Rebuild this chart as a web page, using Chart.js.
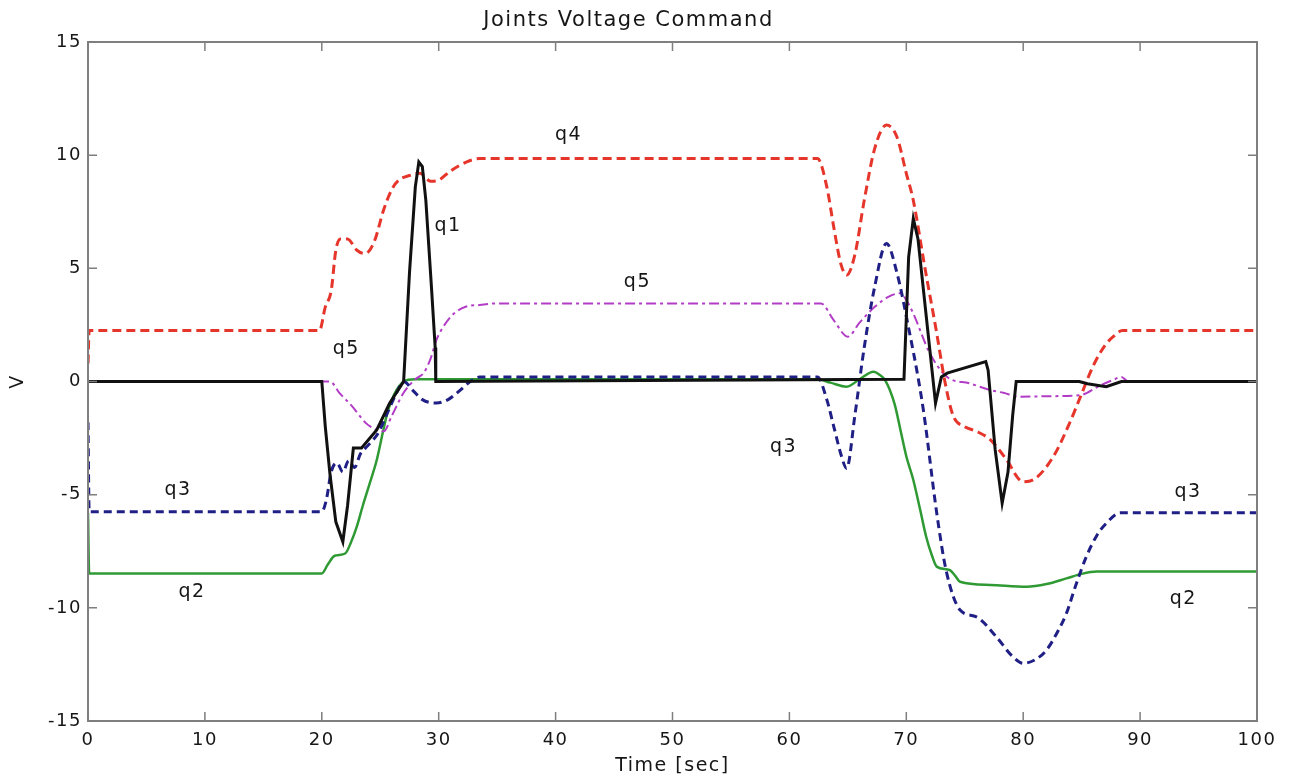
<!DOCTYPE html>
<html>
<head>
<meta charset="utf-8">
<script src="https://cdn.jsdelivr.net/npm/chart.js@4.4.1/dist/chart.umd.min.js"></script>
<style>
  html, body { margin: 0; padding: 0; background: #fff; }
  #wrap { width: 1291px; height: 782px; position: relative; }
</style>
</head>
<body>
<div id="wrap"><canvas id="voltChart"></canvas></div>
<script>
// Joints voltage command (time in sec, volts)
const q1Time = [0, 20.0, 20.3, 20.7, 21.2, 21.8, 22.2, 22.7, 23.4, 24.7, 25.8, 27.0, 27.5, 28.0, 28.3, 28.6, 28.9, 29.4, 29.7, 29.75,
    69.8, 70.2, 70.6, 71.0, 72.5, 73.0, 73.5, 76.8, 77.0, 77.6, 78.2, 78.7, 79.1, 79.4, 84.8, 85.5, 87.1, 88.4, 100];
const q1Volt = [0, 0, -2.0, -4.1, -6.2, -7.08, -5.5, -2.94, -2.94, -2.14, -0.96, 0, 4.8, 8.6, 9.7, 9.5, 8.0, 4.0, 1.5, 0,
    0.1, 5.5, 7.2, 6.3, -0.96, 0.2, 0.37, 0.88, 0.5, -3.0, -5.38, -4.0, -1.5, 0, 0, -0.1, -0.23, 0, 0];

const q2Time = [0, 0.1, 20.0, 20.5, 21.1, 22.0, 22.5, 23.0, 23.5, 24.1, 24.7, 25.2, 25.6, 26.0, 26.4, 27.0, 28.0,
    62.4, 63.5, 64.9, 66.0, 67.2, 67.7, 68.2, 69.0, 69.5, 70.0, 70.6, 71.2, 71.7, 72.2, 72.6, 73.7, 74.2, 74.6,
    77.2, 80.3, 82.0, 83.7, 85.0, 86.3, 100];
const q2Volt = [-5.8, -8.48, -8.48, -8.1, -7.7, -7.6, -7.1, -6.4, -5.5, -4.5, -3.47, -2.3, -1.4, -0.8, -0.37, 0, 0.1,
    0.1, -0.05, -0.23, 0.1, 0.43, 0.3, 0.05, -1.0, -2.14, -3.3, -4.35, -5.7, -6.86, -7.7, -8.18, -8.33, -8.6, -8.85,
    -8.99, -9.07, -8.95, -8.7, -8.5, -8.4, -8.4];

const q3Time = [0, 0.1, 20.0, 20.4, 20.8, 21.3, 21.8, 22.3, 22.8, 23.3, 24.0, 24.8, 25.6, 26.4, 27.0, 27.8, 28.6, 29.8,
    30.8, 31.8, 32.7, 33.5, 62.4, 63.2, 63.8, 64.4, 64.9, 65.6, 66.4, 67.3, 68.3, 69.2, 70.3, 71.0, 71.5, 72.6, 73.4,
    74.6, 76.0, 77.7, 79.0, 80.0, 81.0, 82.0, 83.0, 83.7, 84.5, 85.4, 86.3, 87.1, 88.3, 100];
const q3Volt = [-1.8, -5.75, -5.75, -5.2, -4.0, -3.6, -4.0, -3.5, -3.8, -3.2, -2.8, -2.3, -1.4, -0.5, 0, -0.4, -0.8, -0.95,
    -0.8, -0.4, 0, 0.2, 0.2, -0.8, -2.0, -3.2, -3.84, -1.5, 1.5, 4.2, 6.1, 4.8, 2.1, 0.2, -1.4, -5.8, -8.33,
    -10.1, -10.4, -11.28, -12.1, -12.45, -12.3, -11.86, -11.0, -10.24, -9.0, -7.74, -6.8, -6.27, -5.8, -5.8];

const q4Time = [0, 0.1, 19.8, 20.3, 20.8, 21.2, 21.6, 22.2, 23.0, 23.7, 24.5, 25.3, 26.0, 26.6, 27.5, 28.4, 29.3, 30.0,
    31.0, 32.4, 33.5, 62.4, 63.2, 63.8, 64.4, 64.9, 65.6, 66.4, 67.3, 68.3, 69.2, 70.0, 70.6, 71.6, 72.6, 73.3, 74.0,
    75.0, 76.0, 77.2, 78.5, 80.0, 81.0, 82.6, 84.0, 84.9, 86.0, 87.0, 87.7, 88.5, 100];
const q4Volt = [0.8, 2.25, 2.25, 3.3, 4.0, 5.8, 6.3, 6.3, 5.8, 5.65, 6.2, 7.6, 8.5, 8.9, 9.1, 9.2, 8.85, 8.9,
    9.3, 9.7, 9.85, 9.85, 8.6, 6.8, 5.2, 4.7, 5.6, 8.0, 10.3, 11.33, 10.8, 9.2, 8.0, 5.0, 2.14, 0, -1.5,
    -2.0, -2.2, -2.58, -3.4, -4.43, -4.3, -3.3, -1.8, -0.67, 0.7, 1.6, 1.98, 2.25, 2.25];

const q5Time = [0, 20.0, 20.7, 21.5, 22.6, 23.8, 24.7, 25.3, 26.0, 27.0, 28.0, 28.7, 29.3, 29.8, 30.5, 31.3, 32.3, 33.5, 35.0,
    62.7, 63.8, 65.0, 66.0, 67.3, 68.5, 69.5, 70.0, 70.6, 72.0, 73.5, 75.4, 77.2, 78.3, 79.7, 82.0, 84.9, 86.5, 87.7,
    88.4, 89.0, 100];
const q5Volt = [0, 0, 0, -0.5, -1.1, -1.85, -2.14, -2.2, -1.5, -0.5, 0.1, 0.37, 1.0, 1.83, 2.5, 3.0, 3.3, 3.38, 3.45,
    3.45, 2.7, 1.98, 2.6, 3.3, 3.75, 3.9, 3.6, 3.0, 1.26, 0.2, -0.08, -0.38, -0.5, -0.67, -0.65, -0.6, -0.2, 0.07,
    0.2, 0, 0];

// curve labels placed in data coordinates
const labelText = ['q4', 'q1', 'q5', 'q5', 'q3', 'q2', 'q3', 'q3', 'q2'];
const labelTime = [41.1, 30.8, 47.0, 22.1, 7.7, 8.9, 59.5, 94.1, 93.7];
const labelVolt = [10.9, 6.87, 4.4, 1.44, -4.8, -9.3, -2.9, -4.9, -9.6];

const xTicks = [0, 10, 20, 30, 40, 50, 60, 70, 80, 90, 100];
const yTicks = [-15, -10, -5, 0, 5, 10, 15];

const FONT = "'DejaVu Sans', sans-serif";
const TEXT_COLOR = '#161616';
const AXIS_COLOR = '#7f7f7f';

function toPoints(ts, vs) {
    return ts.map((t, i) => ({x: t, y: vs[i]}));
}

// a little letter spacing to mimic the wide lettering of the original figure
const spacingPlugin = {
    id: 'spacing',
    beforeDraw(chart) {
        chart.ctx.letterSpacing = '1.5px';
    }
};

// box around the plot with inward ticks on all four sides
const boxPlugin = {
    id: 'box',
    afterDatasetsDraw(chart) {
        const {ctx, chartArea: a, scales} = chart;
        const len = 9;
        ctx.save();
        ctx.strokeStyle = AXIS_COLOR;
        ctx.lineWidth = 2;
        ctx.setLineDash([]);
        ctx.strokeRect(a.left, a.top, a.right - a.left, a.bottom - a.top);
        ctx.lineWidth = 1.5;
        ctx.beginPath();
        xTicks.forEach(v => {
            const px = scales.x.getPixelForValue(v);
            ctx.moveTo(px, a.bottom); ctx.lineTo(px, a.bottom - len);
            ctx.moveTo(px, a.top); ctx.lineTo(px, a.top + len);
        });
        yTicks.forEach(v => {
            const py = scales.y.getPixelForValue(v);
            ctx.moveTo(a.left, py); ctx.lineTo(a.left + len, py);
            ctx.moveTo(a.right, py); ctx.lineTo(a.right - len, py);
        });
        ctx.stroke();
        ctx.restore();
    }
};

const labelPlugin = {
    id: 'curveLabels',
    afterDraw(chart) {
        const {ctx, scales} = chart;
        ctx.save();
        ctx.font = '19px ' + FONT;
        ctx.fillStyle = TEXT_COLOR;
        ctx.letterSpacing = '1.5px';
        ctx.textAlign = 'center';
        ctx.textBaseline = 'middle';
        labelText.forEach((txt, i) => {
            ctx.fillText(txt, scales.x.getPixelForValue(labelTime[i]), scales.y.getPixelForValue(labelVolt[i]));
        });
        ctx.restore();
    }
};

function lineSet(label, ts, vs, color, width, dash, smooth) {
    return {
        label: label,
        data: toPoints(ts, vs),
        borderColor: color,
        backgroundColor: color,
        borderWidth: width,
        borderDash: dash,
        pointRadius: 0,
        fill: false,
        cubicInterpolationMode: smooth ? 'monotone' : 'default',
        tension: 0
    };
}

const ctx = document.getElementById('voltChart');
const chart = new Chart(ctx, {
    type: 'line',
    data: {
        datasets: [
            lineSet('q1', q1Time, q1Volt, '#111111', 3, [], false),
            lineSet('q3', q3Time, q3Volt, '#1f1f86', 3, [8, 5], true),
            lineSet('q4', q4Time, q4Volt, '#e6352b', 3, [9, 5], true),
            lineSet('q5', q5Time, q5Volt, '#b23cc6', 2, [10, 4, 3, 4], true),
            lineSet('q2', q2Time, q2Volt, '#2f9a34', 2.5, [], true)
        ]
    },
    options: {
        responsive: true,
        maintainAspectRatio: false,
        animation: false,
        layout: {padding: {left: 0, right: 34, top: 0, bottom: 0}},
        plugins: {
            legend: {display: false},
            tooltip: {enabled: false},
            title: {
                display: true,
                text: 'Joints Voltage Command',
                color: TEXT_COLOR,
                font: {family: FONT, size: 21, weight: 'normal'},
                padding: {top: 8, bottom: 8.8}
            }
        },
        scales: {
            x: {
                type: 'linear',
                min: 0,
                max: 100,
                afterBuildTicks: s => { s.ticks = xTicks.map(v => ({value: v})); },
                ticks: {font: {family: FONT, size: 18}, color: TEXT_COLOR, padding: 9, maxRotation: 0},
                grid: {display: false, drawTicks: false},
                border: {display: false},
                title: {
                    display: true,
                    text: 'Time [sec]',
                    color: TEXT_COLOR,
                    font: {family: FONT, size: 19},
                    padding: {top: 0, bottom: 5}
                },
                afterFit: s => { s.height = 61; }
            },
            y: {
                type: 'linear',
                min: -15,
                max: 15,
                afterBuildTicks: s => { s.ticks = yTicks.map(v => ({value: v})); },
                ticks: {font: {family: FONT, size: 18}, color: TEXT_COLOR, padding: 6},
                grid: {display: false, drawTicks: false},
                border: {display: false},
                title: {
                    display: true,
                    text: 'V',
                    color: TEXT_COLOR,
                    font: {family: FONT, size: 19},
                    padding: {top: 7, bottom: 0}
                },
                afterFit: s => { s.width = 88; }
            }
        }
    },
    plugins: [spacingPlugin, boxPlugin, labelPlugin]
});
</script>
</body>
</html>
